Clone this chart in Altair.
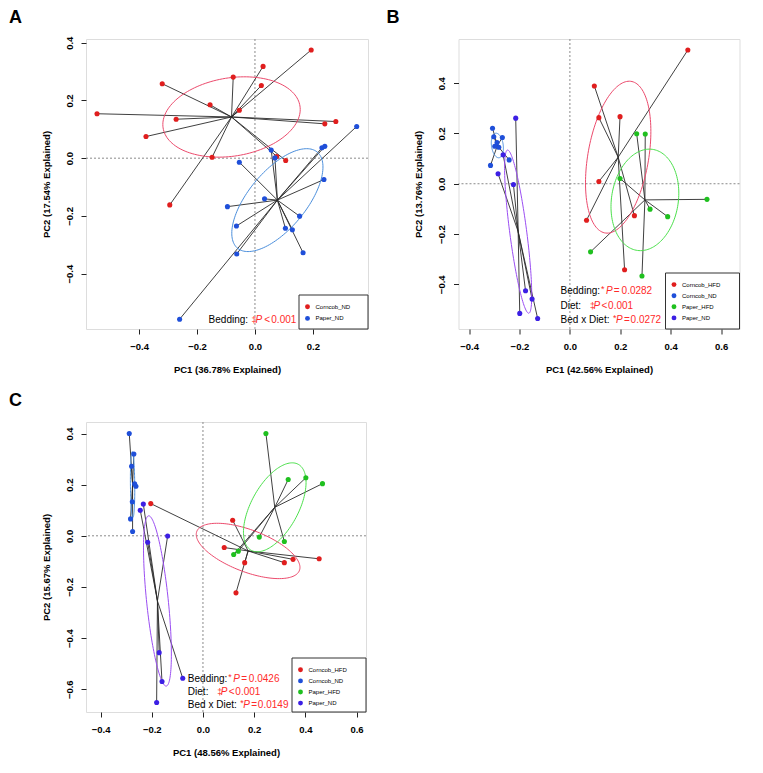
import altair as alt
import numpy as np
import pandas as pd

FONT = "Liberation Sans"

# ---------------- data: panel A ----------------
A_groups = ["Corncob_ND", "Paper_ND"]
A_corncob_nd_x = [0.194, 0.028, -0.075, -0.320, 0.022, -0.155, -0.054, -0.545, -0.272, 0.241, 0.279, -0.376, -0.148, 0.075, 0.106, -0.294]
A_corncob_nd_y = [0.375, 0.318, 0.281, 0.258, 0.252, 0.185, 0.166, 0.154, 0.135, 0.119, 0.127, 0.075, 0.003, 0.006, -0.008, -0.162]
A_paper_nd_x = [0.351, 0.231, 0.241, 0.056, 0.069, -0.054, 0.238, 0.033, -0.095, 0.154, -0.064, 0.105, 0.129, -0.063, 0.166, -0.260]
A_paper_nd_y = [0.110, 0.036, 0.041, 0.028, 0.001, -0.014, -0.074, -0.141, -0.168, -0.201, -0.235, -0.243, -0.248, -0.332, -0.328, -0.558]

# ---------------- data: panel B ----------------
BC_groups = ["Corncob_HFD", "Corncob_ND", "Paper_HFD", "Paper_ND"]
B_corncob_hfd_x = [0.468, 0.097, 0.115, 0.199, 0.115, 0.066, 0.256, 0.217]
B_corncob_hfd_y = [0.532, 0.389, 0.263, 0.267, 0.009, -0.145, -0.127, -0.342]
B_corncob_nd_x = [-0.307, -0.302, -0.268, -0.298, -0.282, -0.289, -0.241, -0.315]
B_corncob_nd_y = [0.221, 0.187, 0.184, 0.149, 0.145, 0.164, 0.095, 0.073]
B_paper_hfd_x = [0.265, 0.299, 0.199, 0.318, 0.388, 0.544, 0.082, 0.286]
B_paper_hfd_y = [0.199, 0.198, 0.021, -0.101, -0.131, -0.062, -0.271, -0.367]
B_paper_nd_x = [-0.215, -0.265, -0.285, -0.224, -0.176, -0.150, -0.199, -0.128]
B_paper_nd_y = [0.261, 0.115, 0.040, -0.003, -0.426, -0.459, -0.516, -0.536]

# ---------------- data: panel C ----------------
C_corncob_hfd_x = [-0.204, 0.116, 0.083, 0.163, 0.318, 0.352, 0.454, 0.129]
C_corncob_hfd_y = [0.126, 0.061, -0.046, -0.105, -0.105, -0.092, -0.090, -0.223]
C_corncob_nd_x = [-0.288, -0.270, -0.279, -0.267, -0.262, -0.276, -0.283, -0.275]
C_corncob_nd_y = [0.400, 0.320, 0.272, 0.203, 0.194, 0.133, 0.066, 0.017]
C_paper_hfd_x = [0.246, 0.333, 0.402, 0.467, 0.220, 0.318, 0.120, 0.138]
C_paper_hfd_y = [0.400, 0.220, 0.227, 0.204, -0.005, -0.022, -0.073, -0.060]
C_paper_nd_x = [-0.233, -0.245, -0.138, -0.216, -0.171, -0.160, -0.079, -0.181]
C_paper_nd_y = [0.124, 0.100, -0.001, -0.025, -0.457, -0.570, -0.557, -0.652]

# ---------------- text ----------------
# (label, significance mark, comparison, value)
A_notes = [("Bedding:", "\u2021", "<", "0.001")]
B_notes = [("Bedding:", "*", "=", "0.0282"), ("Diet:", "\u2021", "<", "0.001"), ("Bed x Diet:", "*", "=", "0.0272")]
C_notes = [("Bedding:", "*", "=", "0.0426"), ("Diet:", "\u2021", "<", "0.001"), ("Bed x Diet:", "*", "=", "0.0149")]

A_xticks = [-0.4, -0.2, 0.0, 0.2]
A_yticks = [-0.4, -0.2, 0.0, 0.2, 0.4]
B_xticks = [-0.4, -0.2, 0.0, 0.2, 0.4, 0.6]
B_yticks = [-0.4, -0.2, 0.0, 0.2, 0.4]
C_xticks = [-0.4, -0.2, 0.0, 0.2, 0.4, 0.6]
C_yticks = [-0.6, -0.4, -0.2, 0.0, 0.2, 0.4]

# ---------------- styles ----------------
RED, BLUE, GREEN, PURPLE = "#E01E1E", "#1F4FD9", "#1FC01F", "#3C1FE4"
E_RED, E_BLUE, E_GREEN, E_PURPLE = "#EC4A6C", "#4A8EDC", "#4CE04C", "#9A4DF2"
NOTE_RED = "#FF2A2A"
# pixel offsets of the pieces after each label: mark, P, comparison, value
OFF_A = [(43, 47, 55.6, 62.7)]
OFF_BC = [(40.5, 45.5, 53.3, 61), (29.5, 33, 41, 47.5), (52.5, 55.5, 63.5, 70)]


def points_df(groups, xs, ys):
    rows = []
    for g, gx, gy in zip(groups, xs, ys):
        for a, b in zip(gx, gy):
            rows.append({"group": g, "x": a, "y": b})
    return pd.DataFrame(rows)


def ellipse_df(df, groups):
    # one standard-deviation ellipse per group (covariance of the group's points)
    rows = []
    t = np.linspace(0, 2 * np.pi, 145)
    circ = np.column_stack([np.cos(t), np.sin(t)])
    for g in groups:
        X = df[df.group == g][["x", "y"]].to_numpy()
        c = X.mean(axis=0)
        U = np.linalg.cholesky(np.cov(X, rowvar=False)).T
        pts = c + circ @ U
        for i, (px, py) in enumerate(pts):
            rows.append({"group": g, "x": px, "y": py, "i": i})
    return pd.DataFrame(rows)


def panel(letter, letter_x, pts, groups, pcols, ecols, xdom, ydom, xticks, yticks,
          xtitle, ytitle, notes, note_x, note_ys, note_offsets, w, h, leg):
    xs = alt.Scale(domain=xdom, nice=False, zero=False)
    ys = alt.Scale(domain=ydom, nice=False, zero=False)
    common = dict(grid=False, domain=False, ticks=True, tickSize=5, tickColor="#222",
                  tickWidth=1, labelFont=FONT, labelFontWeight="bold", labelFontSize=9.5,
                  labelColor="black", titleFont=FONT, titleFontWeight="bold",
                  titleFontSize=9.5, titleColor="black", format=".1f", labelFlush=False)
    xaxis = alt.Axis(values=xticks, title=xtitle, labelPadding=7, titlePadding=14, **common)
    yaxis = alt.Axis(values=yticks, title=ytitle, labelAngle=270, labelAlign="center",
                     labelBaseline="bottom", labelPadding=7, titlePadding=13, **common)
    X = lambda f: alt.X(f, scale=xs, axis=xaxis)
    Y = lambda f: alt.Y(f, scale=ys, axis=yaxis)

    zero = pd.DataFrame({"x": [0.0], "y": [0.0]})
    vline = alt.Chart(zero).mark_rule(color="#8a8a8a", strokeDash=[2, 2], strokeWidth=1).encode(x=X("x:Q"))
    hline = alt.Chart(zero).mark_rule(color="#8a8a8a", strokeDash=[2, 2], strokeWidth=1).encode(y=Y("y:Q"))

    base = alt.Chart(pts)
    spider = base.mark_rule(color="#2a2a2a", strokeWidth=0.9).transform_joinaggregate(
        cx="mean(x)", cy="mean(y)", groupby=["group"]
    ).encode(x=X("x:Q"), y=Y("y:Q"), x2="cx:Q", y2="cy:Q")

    ell = alt.Chart(ellipse_df(pts, groups)).mark_line(strokeWidth=1, clip=True).encode(
        x=X("x:Q"), y=Y("y:Q"),
        stroke=alt.Stroke("group:N", scale=alt.Scale(domain=groups, range=ecols), legend=None),
        order="i:Q", detail="group:N")

    dots = base.mark_circle(size=26, opacity=1).encode(
        x=X("x:Q"), y=Y("y:Q"),
        fill=alt.Fill("group:N", scale=alt.Scale(domain=groups, range=pcols), legend=None))

    layers = [vline, hline, spider, ell, dots]

    # annotation lines (black label + red significance)
    for (lab, sym, cmp_, val), ny, (osym, op, ocmp, oval) in zip(notes, note_ys, note_offsets):
        d = pd.DataFrame({"x": [note_x], "y": [ny]})
        tb = dict(font=FONT, fontSize=10, align="left", baseline="alphabetic")
        enc = dict(x=X("x:Q"), y=Y("y:Q"))
        layers.append(alt.Chart(d).mark_text(color="black", text=lab, **tb).encode(**enc))
        layers.append(alt.Chart(d).mark_text(color=NOTE_RED, text=sym, dx=osym,
                                             dy=(-2 if sym == "*" else 0), font=FONT,
                                             fontSize=9, align="left",
                                             baseline="alphabetic").encode(**enc))
        layers.append(alt.Chart(d).mark_text(color=NOTE_RED, text="P", dx=op, fontStyle="italic", **tb).encode(**enc))
        layers.append(alt.Chart(d).mark_text(color=NOTE_RED, text=cmp_, dx=ocmp, **tb).encode(**enc))
        layers.append(alt.Chart(d).mark_text(color=NOTE_RED, text=val, dx=oval, **tb).encode(**enc))

    # legend box in the lower-right corner of the plot
    bw, bh, first, step = leg
    left, top = w - bw, h - bh
    one = pd.DataFrame({"k": [0]})
    layers.append(alt.Chart(one).mark_rect(fill="white", stroke="#333", strokeWidth=1).encode(
        x=alt.value(left), x2=alt.value(w), y=alt.value(top), y2=alt.value(h)))
    for i, (g, c) in enumerate(zip(groups, pcols)):
        d = pd.DataFrame({"t": [g]})
        ry = top + first + step * i
        layers.append(alt.Chart(d).mark_circle(size=24, color=c, opacity=1).encode(
            x=alt.value(left + 8.5), y=alt.value(ry)))
        layers.append(alt.Chart(d).mark_text(font=FONT, fontSize=6, align="left", baseline="middle",
                                             color="black").encode(
            text="t:N", x=alt.value(left + 16.5), y=alt.value(ry)))

    lt = pd.DataFrame({"t": [letter]})
    layers.append(alt.Chart(lt).mark_text(font=FONT, fontSize=18, fontWeight="bold", align="left",
                                          baseline="alphabetic", color="black").encode(
        text="t:N", x=alt.value(letter_x), y=alt.value(-16)))
    return alt.layer(*layers).properties(width=w, height=h)


A_pts = points_df(A_groups, [A_corncob_nd_x, A_paper_nd_x], [A_corncob_nd_y, A_paper_nd_y])
B_pts = points_df(BC_groups, [B_corncob_hfd_x, B_corncob_nd_x, B_paper_hfd_x, B_paper_nd_x],
                  [B_corncob_hfd_y, B_corncob_nd_y, B_paper_hfd_y, B_paper_nd_y])
C_pts = points_df(BC_groups, [C_corncob_hfd_x, C_corncob_nd_x, C_paper_hfd_x, C_paper_nd_x],
                  [C_corncob_hfd_y, C_corncob_nd_y, C_paper_hfd_y, C_paper_nd_y])

pA = panel("A", -77, A_pts, A_groups, [RED, BLUE], [E_RED, E_BLUE],
           [-0.583, 0.390], [-0.592, 0.413], A_xticks, A_yticks,
           "PC1 (36.78% Explained)", "PC2 (17.54% Explained)",
           A_notes, -0.160, [-0.572], OFF_A, 282, 290,
           (69, 34, 11.7, 11.7))
pB = panel("B", -72, B_pts, BC_groups, [RED, BLUE, GREEN, PURPLE], [E_RED, E_BLUE, E_GREEN, E_PURPLE],
           [-0.442, 0.673], [-0.578, 0.576], B_xticks, B_yticks,
           "PC1 (42.56% Explained)", "PC2 (13.76% Explained)",
           B_notes, -0.037, [-0.439, -0.499, -0.556], OFF_BC, 281, 290,
           (74, 56, 11.6, 11.1))
pC = panel("C", -77, C_pts, BC_groups, [RED, BLUE, GREEN, PURPLE], [E_RED, E_BLUE, E_GREEN, E_PURPLE],
           [-0.457, 0.637], [-0.689, 0.445], C_xticks, C_yticks,
           "PC1 (48.56% Explained)", "PC2 (15.67% Explained)",
           C_notes, -0.059, [-0.570, -0.622, -0.674], OFF_BC, 280, 290,
           (74, 54, 11.8, 11.1))

res = dict(x="independent", y="independent", fill="independent", stroke="independent")
top = alt.hconcat(pA, pB, spacing=16.5).resolve_scale(**res)
chart = alt.vconcat(top, pC, spacing=16).resolve_scale(**res).properties(padding=0).configure_view(
    stroke="#222", strokeWidth=1).configure(background="white")

chart.save("out.html", embed_options={"renderer": "svg", "actions": False})
